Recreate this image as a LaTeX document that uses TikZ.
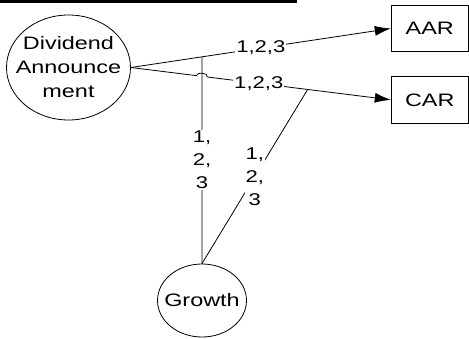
\documentclass[tikz,border=0pt]{standalone}
\usepackage{fontspec}
\setmainfont[FakeStretch=1.3]{Liberation Sans}
\usetikzlibrary{shapes,positioning,calc,arrows.meta}

\begin{document}
\begin{tikzpicture}[x=1pt, y=1pt, line width=0.8pt,
  construct/.style={ellipse, draw, align=center, inner ysep=0pt, font=\fontsize{18pt}{24pt}\selectfont},
  outcome/.style={rectangle, draw, minimum width=77pt, minimum height=46.5pt, font=\fontsize{18pt}{22pt}\selectfont},
  coef/.style={fill=white, inner sep=1pt, align=center, font=\fontsize{17pt}{23pt}\selectfont},
  effect/.style={-{Latex[length=16pt, width=10pt]}}]

\useasboundingbox (0,0) rectangle (469,-338);

% TITLE (cut off at the top)
\fill (0,0) rectangle (297,-3);

% CONSTRUCTS

\node [construct, inner xsep=-9pt, minimum width=124pt, minimum height=105pt] (dividend) at (68.5,-67.5)
{Dividend\\Announce\\ment};

\node [construct, inner xsep=-6.5pt, minimum width=89pt, minimum height=73pt] (growth) at (202,-300.5) {Growth};

\node [outcome] (aar) at (429.7,-28.5) {AAR};

\node [outcome, below=24pt of aar] (car) {CAR};

% PATHS

\coordinate (topjoin) at (intersection of dividend.east--aar.west and growth.north--growth.south);
\coordinate (hop) at (intersection of dividend.east--car.west and growth.north--growth.south);
\coordinate (botjoin) at ($(dividend.east)!0.68!(car.west)$);

\draw[effect] (dividend.east) -- node[coef] {1,2,3} (aar.west);

\draw[effect] (dividend.east) -- ($(hop)!5.5pt!(dividend.east)$) to[bend left=90] ($(hop)!5.5pt!(car.west)$) -- node[coef, pos=0.28] {1,2,3} (car.west);

\draw (growth.north) -- node[coef] {1,\\2,\\3} (topjoin);

\draw (growth.north) -- node[coef] {1,\\2,\\3} (botjoin);

\end{tikzpicture}
\end{document}
